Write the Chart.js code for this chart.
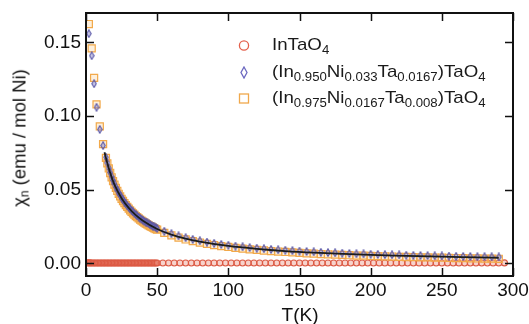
<!DOCTYPE html>
<html>
<head>
<meta charset="utf-8">
<script src="https://cdn.jsdelivr.net/npm/chart.js@4/dist/chart.umd.min.js"></script>
<style>
  html, body { margin: 0; padding: 0; background: #fff; }
  #wrap { position: relative; width: 529px; height: 324px; overflow: hidden; font-family: 'Liberation Sans', Arial, Helvetica, sans-serif; color: #111; }
  #chart { position: absolute; left: 0; top: 0; }
  .ytitle { position: absolute; left: 22px; top: 138px; transform: translate(-50%, -50%) rotate(-90deg); font-size: 18.5px; white-space: nowrap; line-height: 18px; }
  .xtitle { position: absolute; left: 300px; top: 315px; transform: translate(-50%, -50%); font-size: 19px; white-space: nowrap; line-height: 18px; }
  .ytitle sub { font-size: 12px; vertical-align: -3px; }
  .legend { position: absolute; left: 236px; top: 32px; }
  .row { position: relative; height: 26.7px; line-height: 26px; white-space: nowrap; }
  .row svg { position: absolute; left: 0; top: 7px; }
  .row span.t { position: absolute; left: 36px; top: 0; font-size: 17px; color: #1a1a1a; transform: scaleX(1.1); transform-origin: left center; }
  .row sub { font-size: 12px; vertical-align: -4px; }
</style>
</head>
<body>
<div id="wrap">
  <canvas id="chart" width="529" height="324"></canvas>
  <div class="ytitle">χ<sub>n</sub> (emu / mol Ni)</div>
  <div class="xtitle">T(K)</div>
  <div class="legend">
    <div class="row"><svg width="16" height="13"><circle cx="8" cy="6.5" r="4.6" fill="none" stroke="#e4604c" stroke-width="1.3"/></svg><span class="t">InTaO<sub>4</sub></span></div>
    <div class="row"><svg width="16" height="13"><path d="M8 1 L11 6.5 L8 12 L5 6.5 Z" fill="none" stroke="#6b68c0" stroke-width="1.3"/></svg><span class="t">(In<sub>0.950</sub>Ni<sub>0.033</sub>Ta<sub>0.0167</sub>)TaO<sub>4</sub></span></div>
    <div class="row"><svg width="16" height="13"><rect x="3.5" y="2" width="9" height="9" fill="none" stroke="#f0a84c" stroke-width="1.3"/></svg><span class="t">(In<sub>0.975</sub>Ni<sub>0.0167</sub>Ta<sub>0.008</sub>)TaO<sub>4</sub></span></div>
  </div>
</div>
<script>
// ========== Data ==========

// temperatures for the two Ni-doped samples (K)
const tempNi = [2, 4, 5.7, 7.4, 9.7, 12,
    14, 15, 16, 17, 18, 19, 20, 21, 22, 23, 24, 25, 26, 27, 28, 29, 30, 31, 32, 33, 34, 35, 36, 37, 38, 39, 40,
    41, 42, 43, 44, 45, 46, 47, 48, 49, 50,
    55, 60, 65, 70, 75, 80, 85, 90, 95, 100, 105, 110, 115, 120, 125, 130, 135, 140, 145, 150, 155, 160, 165, 170,
    175, 180, 185, 190, 195, 200, 205, 210, 215, 220, 225, 230, 235, 240, 245, 250, 255, 260, 265, 270, 275, 280, 285, 290];

// (In0.950Ni0.033Ta0.0167)TaO4, emu / mol Ni
const chiNi033 = [0.156, 0.141, 0.122, 0.106, 0.091, 0.080,
    0.0721, 0.0683, 0.0648, 0.0617, 0.0589, 0.0563, 0.0540, 0.0518, 0.0498, 0.0480, 0.0462, 0.0446, 0.0431, 0.0417,
    0.0404, 0.0392, 0.0381, 0.0370, 0.0359, 0.0350, 0.0340, 0.0332, 0.0323, 0.0315, 0.0308, 0.0301, 0.0294,
    0.0287, 0.0281, 0.0275, 0.0269, 0.0264, 0.0259, 0.0253, 0.0249, 0.0244, 0.0239,
    0.0219, 0.0202, 0.0187, 0.0175, 0.0164, 0.0154, 0.0145, 0.0137, 0.0130, 0.0124, 0.0118, 0.0113, 0.0108, 0.0104,
    0.0100, 0.0096, 0.0093, 0.0090, 0.0087, 0.0084, 0.0081, 0.0079, 0.0076, 0.0074, 0.0072, 0.0070, 0.0068, 0.0066,
    0.0065, 0.0063, 0.0062, 0.0060, 0.0059, 0.0058, 0.0056, 0.0055, 0.0054, 0.0053, 0.0052, 0.0051, 0.0050, 0.0049,
    0.0048, 0.0047, 0.0046, 0.0046, 0.0045, 0.0044];

// (In0.975Ni0.0167Ta0.008)TaO4, emu / mol Ni
const chiNi0167 = [0.1625, 0.146, 0.126, 0.108, 0.093, 0.081,
    0.0716, 0.0679, 0.0645, 0.0614, 0.0585, 0.0559, 0.0535, 0.0513, 0.0492, 0.0473, 0.0455, 0.0439, 0.0424, 0.0410,
    0.0396, 0.0384, 0.0372, 0.0361, 0.0350, 0.0340, 0.0331, 0.0322, 0.0314, 0.0306, 0.0298, 0.0291, 0.0284,
    0.0278, 0.0271, 0.0265, 0.0259, 0.0254, 0.0249, 0.0243, 0.0238, 0.0233, 0.0229,
    0.0208, 0.0191, 0.0176, 0.0163, 0.0152, 0.0142, 0.0133, 0.0125, 0.0118, 0.0112, 0.0106, 0.0101, 0.0096, 0.0092,
    0.0088, 0.0084, 0.0081, 0.0078, 0.0075, 0.0072, 0.0069, 0.0067, 0.0064, 0.0062, 0.0060, 0.0058, 0.0056, 0.0054,
    0.0053, 0.0051, 0.0050, 0.0048, 0.0047, 0.0045, 0.0044, 0.0043, 0.0042, 0.0041, 0.0040, 0.0039, 0.0038, 0.0037,
    0.0036, 0.0035, 0.0034, 0.0033, 0.0033, 0.0032];

// InTaO4 (undoped) - sits on zero
const tempPure = [1, 2, 3, 4, 5, 6, 7, 8, 9, 10, 11, 12, 13, 14, 15, 16, 17, 18, 19, 20, 21, 22, 23, 24, 25,
    26, 27, 28, 29, 30, 31, 32, 33, 34, 35, 36, 37, 38, 39, 40, 41, 42, 43, 44, 45, 46, 47, 48, 49, 50,
    54, 58, 62, 66, 70, 74, 78, 82, 86, 90, 94, 98, 102, 106, 110, 114, 118, 122, 126, 130, 134, 138, 142, 146, 150,
    154, 158, 162, 166, 170, 174, 178, 182, 186, 190, 194, 198, 202, 206, 210, 214, 218, 222, 226, 230, 234, 238,
    242, 246, 250, 254, 258, 262, 266, 270, 274, 278, 282, 286, 290, 294];
const chiPure = [
    0.0004, 0.0004, 0.0004, 0.0003, 0.0003, 0.0003, 0.0003, 0.0003, 0.0003, 0.0003,
    0.0003, 0.0003, 0.0003, 0.0003, 0.0003, 0.0003, 0.0003, 0.0003, 0.0003, 0.0003,
    0.0003, 0.0003, 0.0003, 0.0003, 0.0003, 0.0003, 0.0003, 0.0003, 0.0003, 0.0003,
    0.0003, 0.0003, 0.0003, 0.0003, 0.0003, 0.0003, 0.0003, 0.0003, 0.0003, 0.0003,
    0.0003, 0.0003, 0.0003, 0.0003, 0.0003, 0.0003, 0.0003, 0.0003, 0.0003, 0.0003,
    0.0003, 0.0003, 0.0003, 0.0003, 0.0003, 0.0003, 0.0003, 0.0003, 0.0003, 0.0003,
    0.0003, 0.0003, 0.0003, 0.0003, 0.0003, 0.0003, 0.0003, 0.0003, 0.0003, 0.0003,
    0.0003, 0.0003, 0.0003, 0.0003, 0.0003, 0.0003, 0.0003, 0.0003, 0.0003, 0.0003,
    0.0003, 0.0003, 0.0003, 0.0003, 0.0003, 0.0003, 0.0003, 0.0003, 0.0003, 0.0003,
    0.0003, 0.0003, 0.0003, 0.0003, 0.0003, 0.0003, 0.0003, 0.0003, 0.0003, 0.0003,
    0.0003, 0.0003, 0.0003, 0.0003, 0.0003, 0.0003, 0.0003, 0.0003, 0.0003, 0.0003, 0.0004];

// Curie-Weiss fit curve drawn through the doped data
const fitT = [13, 15, 17, 20, 25, 30, 35, 40, 50, 60, 70, 80, 100, 120, 140, 160, 180, 200, 225, 250, 275, 290];
const fitChi = [0.0755, 0.0680, 0.0615, 0.0535, 0.0443, 0.0377, 0.0328, 0.0290, 0.0234, 0.0196, 0.0169, 0.0149,
    0.0119, 0.0099, 0.0084, 0.0073, 0.0065, 0.0058, 0.0052, 0.0046, 0.0042, 0.0039];

// axis ticks
const xTicks = [0, 50, 100, 150, 200, 250, 300];
const yTicks = [0, 0.05, 0.10, 0.15];

// ========== Helpers ==========

function pairs(xs, ys) {
    return xs.map((x, i) => ({ x: x, y: ys[i] }));
}

// narrow diamond marker like the original plot
function diamondMarker(w, h, stroke, fill) {
    const c = document.createElement('canvas');
    c.width = w;
    c.height = h;
    const g = c.getContext('2d');
    g.beginPath();
    g.moveTo(w / 2, 0.8);
    g.lineTo(w - 0.8, h / 2);
    g.lineTo(w / 2, h - 0.8);
    g.lineTo(0.8, h / 2);
    g.closePath();
    g.fillStyle = fill;
    g.fill();
    g.strokeStyle = stroke;
    g.lineWidth = 1.1;
    g.stroke();
    return c;
}

// box frame with inward ticks on all four sides
const framePlugin = {
    id: 'frame',
    afterDraw(chart) {
        const { ctx, chartArea: a, scales } = chart;
        const len = 8;
        ctx.save();
        ctx.strokeStyle = '#111';
        ctx.lineWidth = 1.5;
        ctx.beginPath();
        xTicks.forEach(v => {
            const px = Math.round(scales.x.getPixelForValue(v)) + 0.5;
            ctx.moveTo(px, a.bottom); ctx.lineTo(px, a.bottom - len);
            ctx.moveTo(px, a.top); ctx.lineTo(px, a.top + len);
        });
        yTicks.forEach(v => {
            const py = Math.round(scales.y.getPixelForValue(v)) + 0.5;
            ctx.moveTo(a.left, py); ctx.lineTo(a.left + len, py);
            ctx.moveTo(a.right, py); ctx.lineTo(a.right - len, py);
        });
        ctx.stroke();
        ctx.lineWidth = 2;
        ctx.strokeRect(a.left, a.top, a.right - a.left, a.bottom - a.top);
        ctx.restore();
    }
};

// ========== Chart ==========

const tickFont = { family: "'Liberation Sans', Arial, Helvetica, sans-serif", size: 19 };

new Chart(document.getElementById('chart').getContext('2d'), {
    type: 'scatter',
    data: {
        datasets: [
            {
                type: 'line',
                label: 'fit',
                data: pairs(fitT, fitChi),
                borderColor: '#1c1c1c',
                borderWidth: 1.8,
                pointRadius: 0,
                cubicInterpolationMode: 'monotone',
                showLine: true,
                fill: false
            },
            {
                label: '(In0.950Ni0.033Ta0.0167)TaO4',
                data: pairs(tempNi, chiNi033),
                pointStyle: diamondMarker(6, 9, '#5a57a8', 'rgba(130,128,195,0.45)')
            },
            {
                label: '(In0.975Ni0.0167Ta0.008)TaO4',
                data: pairs(tempNi, chiNi0167),
                pointStyle: 'rect',
                pointRadius: 5,
                borderWidth: 1.2,
                borderColor: '#f2a94a',
                backgroundColor: 'rgba(246,190,110,0.25)'
            },
            {
                label: 'InTaO4',
                data: pairs(tempPure, chiPure),
                pointStyle: 'circle',
                pointRadius: 3,
                borderWidth: 1.1,
                borderColor: '#dc5a44',
                backgroundColor: 'rgba(232,130,110,0.35)'
            }
        ]
    },
    options: {
        responsive: false,
        animation: false,
        devicePixelRatio: 1,
        layout: { padding: { left: 0, right: 16, top: 13, bottom: 0 } },
        plugins: { legend: { display: false }, tooltip: { enabled: false } },
        scales: {
            x: {
                type: 'linear',
                min: 0,
                max: 300,
                grid: { display: false, drawTicks: false },
                border: { display: false },
                afterBuildTicks: s => { s.ticks = xTicks.map(v => ({ value: v })); },
                afterFit: s => { s.height = 48; s.paddingLeft = 0; s.paddingRight = 0; },
                ticks: { font: tickFont, color: '#111', padding: 3, maxRotation: 0 }
            },
            y: {
                type: 'linear',
                min: -0.0085,
                max: 0.170,
                grid: { display: false, drawTicks: false },
                border: { display: false },
                afterBuildTicks: s => { s.ticks = yTicks.map(v => ({ value: v })); },
                afterFit: s => { s.width = 86; s.paddingTop = 0; s.paddingBottom = 0; },
                ticks: { font: tickFont, color: '#111', padding: 5, callback: v => v.toFixed(2) }
            }
        }
    },
    plugins: [framePlugin]
});
</script>
</body>
</html>
